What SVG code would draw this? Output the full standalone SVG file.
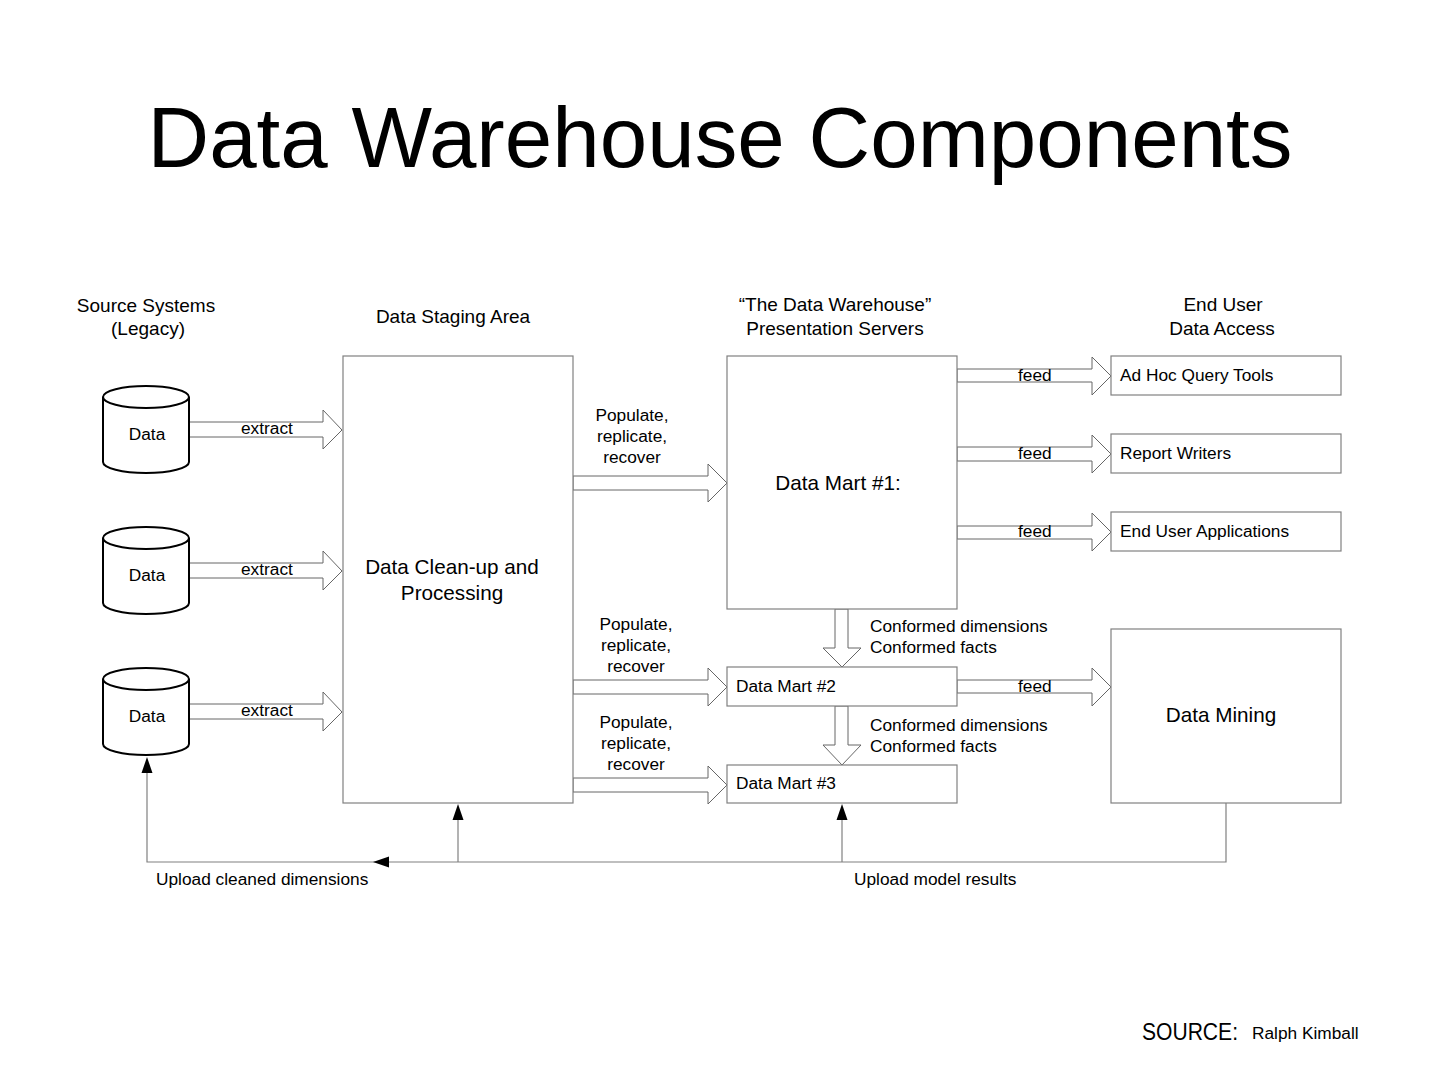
<svg xmlns="http://www.w3.org/2000/svg" width="1440" height="1080" viewBox="0 0 1440 1080">
<defs>
<style>
text{font-family:"Liberation Sans",Arial,sans-serif;fill:#000}
.t{font-size:17.3px}
.h{font-size:19px;text-anchor:middle}
.big{font-size:20.7px;text-anchor:middle}
.c{text-anchor:middle}
.box{fill:#fff;stroke:#808080;stroke-width:1.2}
.fat{fill:#fff;stroke:#666;stroke-width:1}
.cyl{fill:#fff;stroke:#000;stroke-width:2}
.ln{fill:none;stroke:#808080;stroke-width:1.2}
</style>
</defs>
<rect width="1440" height="1080" fill="#fff"/>

<text x="720" y="167" font-size="85" text-anchor="middle" textLength="1145" lengthAdjust="spacingAndGlyphs">Data Warehouse Components</text>

<g id="headers">
<text class="h" x="146" y="312">Source Systems</text>
<text class="h" x="148" y="335">(Legacy)</text>
<text class="h" x="453" y="323">Data Staging Area</text>
<text class="h" x="835" y="311">“The Data Warehouse”</text>
<text class="h" x="835" y="335">Presentation Servers</text>
<text class="h" x="1223" y="311">End User</text>
<text class="h" x="1222" y="335">Data Access</text>
</g>

<g id="connectors">
<!-- extract arrows -->
<path class="fat" d="M189,422 H323 V410 L342,430 L323,449 V437 H189 Z"/>
<path class="fat" d="M189,563 H323 V551 L342,571 L323,590 V578 H189 Z"/>
<path class="fat" d="M189,704 H323 V692 L342,712 L323,731 V719 H189 Z"/>
<text class="t" x="241" y="434">extract</text>
<text class="t" x="241" y="575">extract</text>
<text class="t" x="241" y="716">extract</text>
<!-- populate arrows -->
<path class="fat" d="M573,476 H708 V464 L727,483 L708,502 V490 H573 Z"/>
<path class="fat" d="M573,680 H708 V668 L727,687 L708,706 V694 H573 Z"/>
<path class="fat" d="M573,778 H708 V766 L727,785 L708,804 V792 H573 Z"/>
<text class="t c" x="632" y="421">Populate,</text>
<text class="t c" x="632" y="442">replicate,</text>
<text class="t c" x="632" y="463">recover</text>
<text class="t c" x="636" y="630">Populate,</text>
<text class="t c" x="636" y="651">replicate,</text>
<text class="t c" x="636" y="672">recover</text>
<text class="t c" x="636" y="728">Populate,</text>
<text class="t c" x="636" y="749">replicate,</text>
<text class="t c" x="636" y="770">recover</text>
<!-- conformed down arrows -->
<path class="fat" d="M835,609 V648 H823 L842,667 L861,648 H848 V609 Z"/>
<path class="fat" d="M835,706 V745 H823 L842,765 L861,745 H848 V706 Z"/>
<text class="t" x="870" y="632">Conformed dimensions</text>
<text class="t" x="870" y="653">Conformed facts</text>
<text class="t" x="870" y="731">Conformed dimensions</text>
<text class="t" x="870" y="752">Conformed facts</text>
<!-- feed arrows -->
<path class="fat" d="M957,369 H1092 V357 L1111,376 L1092,395 V382 H957 Z"/>
<path class="fat" d="M957,447 H1092 V435 L1111,454 L1092,473 V461 H957 Z"/>
<path class="fat" d="M957,526 H1092 V513 L1111,532 L1092,551 V539 H957 Z"/>
<path class="fat" d="M957,680 H1092 V668 L1111,687 L1092,706 V693 H957 Z"/>
<text class="t" x="1018" y="381">feed</text>
<text class="t" x="1018" y="459">feed</text>
<text class="t" x="1018" y="537">feed</text>
<text class="t" x="1018" y="692">feed</text>
<!-- upload lines -->
<path class="ln" d="M1226,803 V862 H147 V773"/>
<path d="M147,757 L141.5,773 L152.5,773 Z" fill="#000"/>
<path d="M373,862 L389,856.5 L389,867.5 Z" fill="#000"/>
<path class="ln" d="M458,862 V820"/>
<path d="M458,804 L452.5,820 L463.5,820 Z" fill="#000"/>
<path class="ln" d="M842,862 V820"/>
<path d="M842,804 L836.5,820 L847.5,820 Z" fill="#000"/>
<text class="t" x="156" y="885">Upload cleaned dimensions</text>
<text class="t" x="854" y="885">Upload model results</text>
</g>

<g id="source1">
<path class="cyl" d="M103,397 V462 A43,11 0 0 0 189,462 V397"/>
<ellipse class="cyl" cx="146" cy="397" rx="43" ry="11"/>
<text class="t c" x="147" y="440">Data</text>
</g>
<g id="source2">
<path class="cyl" d="M103,538 V603 A43,11 0 0 0 189,603 V538"/>
<ellipse class="cyl" cx="146" cy="538" rx="43" ry="11"/>
<text class="t c" x="147" y="581">Data</text>
</g>
<g id="source3">
<path class="cyl" d="M103,679 V744 A43,11 0 0 0 189,744 V679"/>
<ellipse class="cyl" cx="146" cy="679" rx="43" ry="11"/>
<text class="t c" x="147" y="722">Data</text>
</g>

<g id="staging">
<rect class="box" x="343" y="356" width="230" height="447"/>
<text class="big" x="452" y="574">Data Clean-up and</text>
<text class="big" x="452" y="600">Processing</text>
</g>

<g id="mart1">
<rect class="box" x="727" y="356" width="230" height="253"/>
<text class="big" x="838" y="490">Data Mart #1:</text>
</g>
<g id="mart2">
<rect class="box" x="727" y="667" width="230" height="39"/>
<text class="t" x="736" y="692">Data Mart #2</text>
</g>
<g id="mart3">
<rect class="box" x="727" y="765" width="230" height="38"/>
<text class="t" x="736" y="789">Data Mart #3</text>
</g>

<g id="adhoc">
<rect class="box" x="1111" y="356" width="230" height="39"/>
<text class="t" x="1120" y="381">Ad Hoc Query Tools</text>
</g>
<g id="report">
<rect class="box" x="1111" y="434" width="230" height="39"/>
<text class="t" x="1120" y="459">Report Writers</text>
</g>
<g id="enduserapps">
<rect class="box" x="1111" y="512" width="230" height="39"/>
<text class="t" x="1120" y="537">End User Applications</text>
</g>
<g id="mining">
<rect class="box" x="1111" y="629" width="230" height="174"/>
<text class="big" x="1221" y="722">Data Mining</text>
</g>

<g id="source">
<text x="1142" y="1040" font-size="23" textLength="96" lengthAdjust="spacingAndGlyphs">SOURCE:</text>
<text x="1252" y="1039" font-size="17.3">Ralph Kimball</text>
</g>
</svg>
